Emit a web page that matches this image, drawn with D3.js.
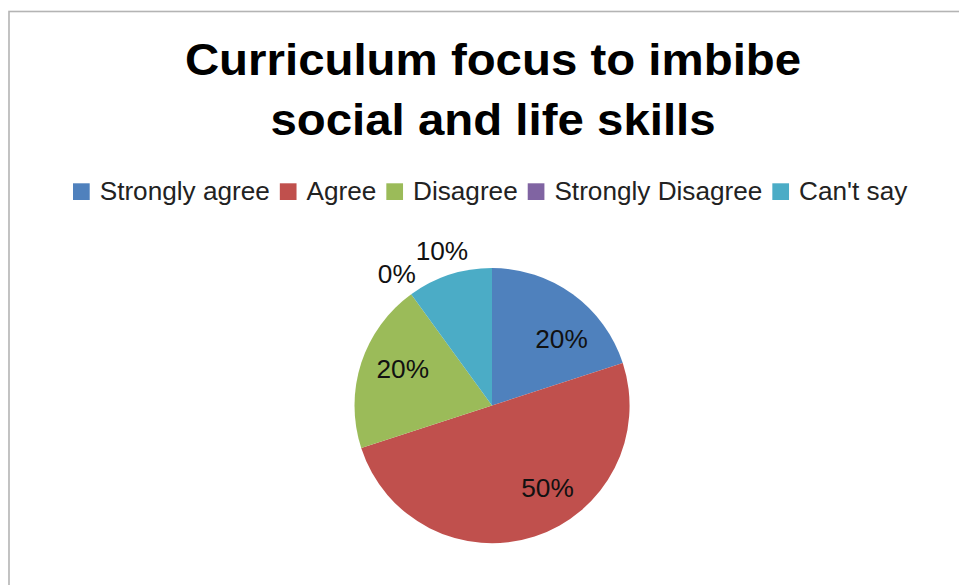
<!DOCTYPE html>
<html>
<head>
<meta charset="utf-8">
<script src="https://cdn.jsdelivr.net/npm/d3@7"></script>
<style>
  html, body { margin: 0; padding: 0; background: #fff; }
  svg { display: block; }
  text { font-family: "Liberation Sans", Arial, Helvetica, sans-serif; }
</style>
</head>
<body>
<svg id="chart" width="959" height="585"></svg>
<script>
// ---- data ----
const categories = ["Strongly agree", "Agree", "Disagree", "Strongly Disagree", "Can't say"];
const values = [20, 50, 20, 0, 10];
const percentLabels = ["20%", "50%", "20%", "0%", "10%"];
const titleLines = ["Curriculum focus to imbibe", "social and life skills"];
const colors = ["#4F81BD", "#C0504D", "#9BBB59", "#8064A2", "#4BACC6"];

// ---- layout ----
const W = 959, H = 585;
const cx = 492, cy = 405.5, R = 137.5;
const svg = d3.select("#chart");

// frame
svg.append("rect")
  .attr("x", 9).attr("y", 11.5)
  .attr("width", W + 20).attr("height", H + 20)
  .attr("fill", "none").attr("stroke", "#b4b4b4").attr("stroke-width", 1.6);

// title
const titleSX = 1.09;
const titleBase = [75, 134.5];
titleLines.forEach((t, i) => {
  svg.append("text")
    .attr("transform", `translate(493,${titleBase[i]}) scale(${titleSX},1)`)
    .attr("text-anchor", "middle")
    .attr("font-size", 43.5).attr("font-weight", "bold").attr("fill", "#000")
    .text(t);
});

// legend
const legSX = 1.026, legFS = 25.5, sq = 16.7;
let lx = 73;
const legY = 200;
categories.forEach((c, i) => {
  svg.append("rect")
    .attr("x", lx).attr("y", legY - sq)
    .attr("width", sq).attr("height", sq)
    .attr("fill", colors[i]);
  lx += sq + 10;
  const t = svg.append("text")
    .attr("transform", `translate(${lx},${legY}) scale(${legSX},1)`)
    .attr("font-size", legFS).attr("fill", "#222")
    .text(c);
  lx += t.node().getComputedTextLength() * legSX + 10;
});

// pie
const pie = d3.pie().sort(null).value(d => d)(values);
const arc = d3.arc().innerRadius(0).outerRadius(R);
const g = svg.append("g").attr("transform", `translate(${cx},${cy})`);
g.selectAll("path.slice")
  .data(pie)
  .join("path")
  .attr("class", "slice")
  .attr("d", arc)
  .attr("fill", (d, i) => colors[i]);

// data labels: inside labels at an inner radius, small slices outside
const inArc = d3.arc().innerRadius(97).outerRadius(97);
const outArc = d3.arc().innerRadius(162).outerRadius(162);
const labelNudge = [[12.5, 12], [25.5, -10], [3, -6.5], [0, 0], [0, 0]];
const outside = [false, false, false, true, true];
const lblSX = 1.05, lblFS = 25;
pie.forEach((d, i) => {
  const p = outside[i] ? outArc.centroid(d) : inArc.centroid(d);
  const x = cx + p[0] + labelNudge[i][0];
  const y = cy + p[1] + labelNudge[i][1];
  svg.append("text")
    .attr("transform", `translate(${x},${y}) scale(${lblSX},1)`)
    .attr("text-anchor", "middle")
    .attr("dominant-baseline", "central")
    .attr("font-size", lblFS).attr("fill", "#111")
    .text(percentLabels[i]);
});
</script>
</body>
</html>
